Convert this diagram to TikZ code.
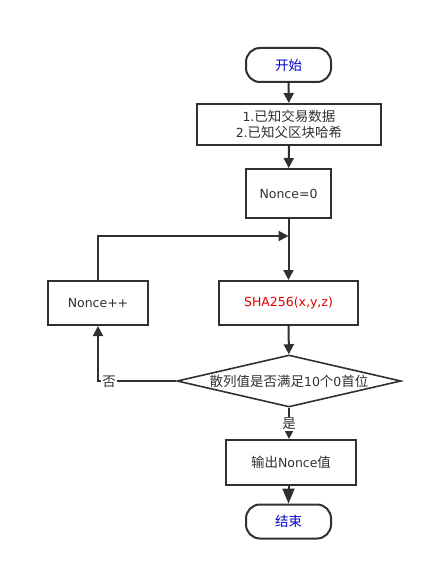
\documentclass[tikz,border=0pt]{standalone}
\usepackage{fontspec}
\setmainfont{DejaVu Sans}
\newfontfamily\cjkf{Noto Sans CJK SC}[Scale=1.08]
\newcommand\zh[1]{{\cjkf #1}}
\usetikzlibrary{arrows.meta,shapes.geometric}
\definecolor{ln}{HTML}{303030}
\definecolor{tblue}{HTML}{0000CC}
\definecolor{tred}{HTML}{E00000}
\begin{document}
\begin{tikzpicture}[x=1pt,y=-1pt,
  every node/.style={font=\fontsize{12.5}{16}\selectfont, text=ln},
  box/.style={draw=ln, line width=2pt, rectangle, inner sep=0pt, align=center},
  term/.style={draw=ln, line width=2pt, rectangle, rounded corners=14pt, inner sep=0pt, minimum width=85pt, minimum height=34pt},
  dia/.style={draw=ln, line width=1.6pt, diamond, inner sep=0pt, shape aspect=4.3, minimum width=224pt, minimum height=52pt},
  conn/.style={draw=ln, line width=2pt, -{Triangle[length=10pt,width=10pt]}},
  plain/.style={draw=ln, line width=2pt},
  lbl/.style={fill=white, inner sep=1pt}
]
\useasboundingbox (0,0) rectangle (431,572);
\node[term, text=tblue] (start) at (288.5,65) {\zh{开始}};
\node[box, minimum width=184pt, minimum height=41pt] (known) at (289,124.5) {1.\zh{已知交易数据}\\2.\zh{已知父区块哈希}};
\node[box, minimum width=85pt, minimum height=49pt] (init) at (288.5,193.5) {Nonce=0};
\coordinate (join) at (288.5,236);
\node[box, minimum width=139pt, minimum height=44pt, text=tred] (sha) at (288.5,303) {SHA256(x,y,z)};
\node[box, minimum width=100pt, minimum height=44pt] (inc) at (98,303) {Nonce++};
\node[dia] (check) at (289,381) {\zh{散列值是否满足}10\zh{个}0\zh{首位}};
\node[box, minimum width=130pt, minimum height=45pt] (out) at (291,462.5) {\zh{输出}Nonce\zh{值}};
\node[term, text=tblue] (end) at (288.5,521.5) {\zh{结束}};

\draw[conn] (start) -- (known);
\draw[conn] (known) -- (init);
\draw[plain] (init) -- (join);
\draw[conn] (join) -- (sha);
\draw[conn] (inc.north) |- (join);
\draw[conn] (sha) -- (check);
\draw[conn] (check.west) -| (inc.south);
\node[lbl] (no) at (109,382) {\zh{否}};
\draw[conn] (check.south) -- (out.north -| check.south);
\node[lbl] (yes) at (289,424) {\zh{是}};
\draw[draw=ln, line width=2pt, -{Triangle[length=15pt,width=12pt]}] (out.south -| end.north) -- (end.north);
\end{tikzpicture}
\end{document}
